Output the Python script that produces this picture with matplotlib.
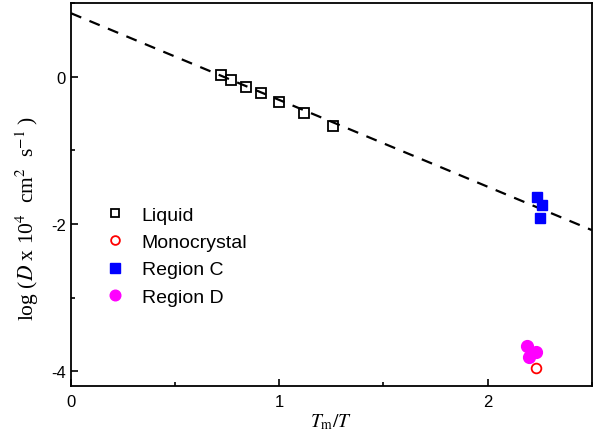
import numpy as np
import matplotlib
matplotlib.use("Agg")
import matplotlib.pyplot as plt
from matplotlib.ticker import MultipleLocator

plt.rcParams['font.family'] = ['Liberation Sans', 'DejaVu Sans']
plt.rcParams['mathtext.fontset'] = 'stix'
plt.rcParams['axes.unicode_minus'] = False

# diffusion data, log10(D x 10^4 cm^2/s) against Tm/T
liquid_x = [0.72, 0.77, 0.84, 0.91, 1.00, 1.12, 1.26]
liquid_y = [0.02, -0.05, -0.14, -0.22, -0.34, -0.49, -0.67]
mono_x = [2.23]
mono_y = [-3.95]
regc_x = [2.235, 2.26, 2.25]
regc_y = [-1.63, -1.74, -1.92]
regd_x = [2.187, 2.23, 2.197]
regd_y = [-3.66, -3.73, -3.80]

# Arrhenius fit through the liquid points
fit_a = 0.86
fit_b = -1.177

fig = plt.figure(figsize=(5.93, 4.35), dpi=100)
ax = fig.add_axes([0.1197, 0.110, 0.8783, 0.881])

xf = np.array([0.0, 2.5])
ax.plot(xf, fit_a + fit_b * xf, 'k--', lw=1.6, dashes=(5, 4), zorder=1)

ax.plot(liquid_x, liquid_y, 's', ms=7, mfc='none', mec='black', mew=1.3,
        ls='none', label='Liquid', zorder=3)
ax.plot(mono_x, mono_y, 'o', ms=7, mfc='none', mec='red', mew=1.3,
        ls='none', label='Monocrystal', zorder=3)
ax.plot(regc_x, regc_y, 's', ms=7.5, color='blue', mec='blue',
        ls='none', label='Region C', zorder=3)
ax.plot(regd_x, regd_y, 'o', ms=8.5, color='magenta', mec='magenta',
        ls='none', label='Region D', zorder=3)

ax.set_xlim(0, 2.5)
ax.set_ylim(-4.2, 1.0)
ax.set_xticks([0, 1, 2])
ax.set_yticks([0, -2, -4])
ax.xaxis.set_minor_locator(MultipleLocator(0.5))
ax.yaxis.set_minor_locator(MultipleLocator(1))
ax.tick_params(which='both', direction='in', top=False, right=False,
               labelsize=12, width=1.2)
ax.tick_params(which='major', length=5)
ax.tick_params(which='minor', length=3)
ax.tick_params(axis='x', pad=6)
for s in ax.spines.values():
    s.set_linewidth(1.3)

ax.set_xlabel(r'$T_{\rm m}/T$', fontsize=14, family='Liberation Serif',
              labelpad=1)
ax.set_ylabel(r'log ($D$ x 10$^4$  cm$^2$  s$^{-1}$ )', fontsize=15.5,
              family='Liberation Serif')
ax.yaxis.set_label_coords(-0.058, 0.44)

ax.legend(loc='upper left', bbox_to_anchor=(0.05, 0.49), frameon=False,
          fontsize=14, handletextpad=0.9, labelspacing=0.5,
          handlelength=1.0, borderaxespad=0, markerscale=0.9)

fig.savefig('out.png', dpi=100)
